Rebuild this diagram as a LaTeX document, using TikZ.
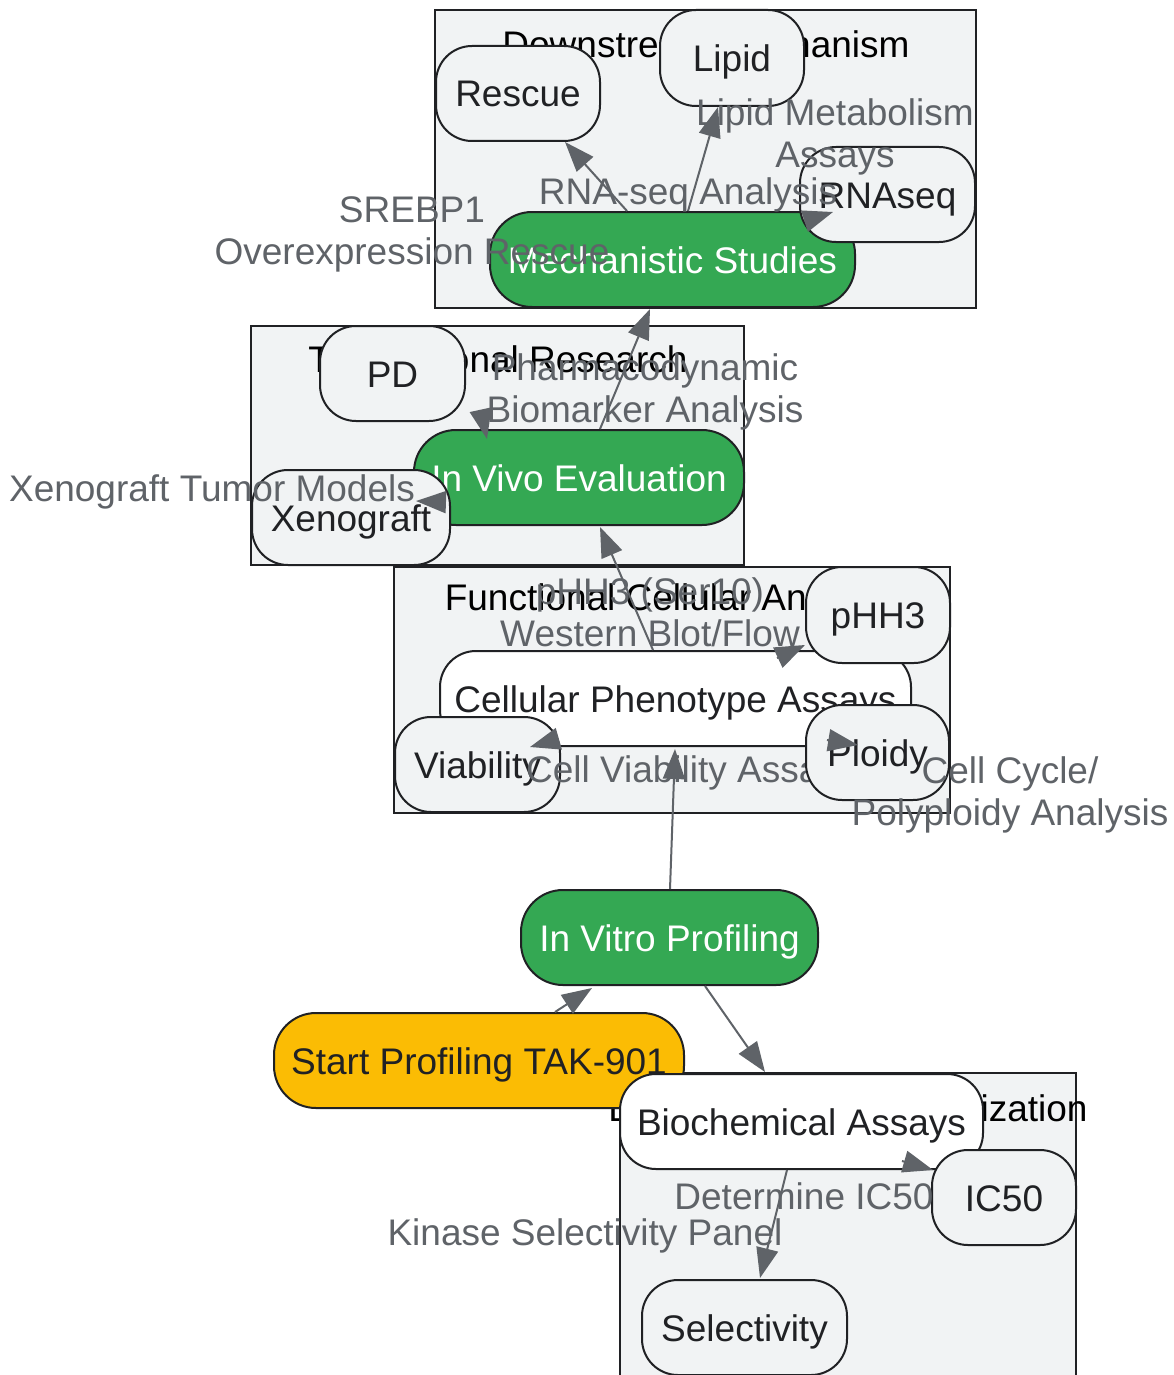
\documentclass[tikz,border=0pt]{standalone}
\usepackage{fontspec}
\setmainfont{Liberation Sans}
\usetikzlibrary{arrows.meta,calc}
\definecolor{gfill}{HTML}{F1F3F4}
\definecolor{dark}{HTML}{202124}
\definecolor{edgec}{HTML}{5F6368}
\definecolor{ggreen}{HTML}{34A853}
\definecolor{gyellow}{HTML}{FBBC04}
\newcommand\bigfs{\fontsize{37}{42}\selectfont}
\begin{document}
\begin{tikzpicture}[x=1pt,y=-1pt,
  cluster/.style={draw=dark, fill=gfill, line width=2pt},
  ctitle/.style={text=black, font=\bigfs, inner sep=0pt},
  box/.style={draw=dark, line width=2pt, rounded corners=36pt, fill=gfill, text=dark, font=\bigfs, inner sep=0pt, minimum height=95pt, text height=27pt, text depth=0pt},
  greenbox/.style={box, fill=ggreen, text=white, rounded corners=42pt},
  whitebox/.style={box, fill=white},
  yellowbox/.style={box, fill=gyellow, rounded corners=42pt},
  lab/.style={text=edgec, font=\bigfs, align=center, inner sep=0pt},
  arr/.style={draw=edgec, line width=2pt, -{Triangle[length=30pt,width=22pt]}}]
\useasboundingbox (0,0) rectangle (1174,1375);

% clusters
\draw[cluster] (435,10) rectangle (976,308);
\node[ctitle] (t1) at (706,44) {Downstream Mechanism};
\draw[cluster] (251,326) rectangle (744,565);
\node[ctitle] (t2) at (498,359) {Translational Research};
\draw[cluster] (394,567) rectangle (950,813);
\node[ctitle] (t3) at (672,601) {Functional Cellular Analysis};
\draw[cluster] (620,1073) rectangle (1076,1390);
\node[ctitle] (t4) at (848,1108) {Biochemical Characterization};

% nodes
\node[greenbox, minimum width=365pt] (mech) at (672.5,259.5) {Mechanistic Studies};
\node[box, minimum width=164pt] (rescue) at (518,93.5) {Rescue};
\node[box, minimum width=144pt, minimum height=96pt] (lipid) at (732,58) {Lipid};
\node[box, minimum width=175pt] (rnaseq) at (887.5,194.5) {RNAseq};
\node[greenbox, minimum width=330pt] (invivo) at (579,477.5) {In Vivo Evaluation};
\node[box, minimum width=145pt] (pd) at (392.5,373.5) {PD};
\node[box, minimum width=198pt] (xeno) at (351,517.5) {Xenograft};
\node[whitebox, minimum width=471pt] (cell) at (675.5,698.5) {Cellular Phenotype Assays};
\node[box, minimum width=144pt, minimum height=96pt] (phh3) at (878,615) {pHH3};
\node[box, minimum width=165pt] (viab) at (477.5,764.5) {Viability};
\node[lab] (l7) at (682,773) {Cell Viability Assay};
\node[box, minimum width=143pt] (ploidy) at (877.5,752.5) {Ploidy};
\node[greenbox, minimum width=297pt] (invitro) at (669.5,937.5) {In Vitro Profiling};
\node[yellowbox, minimum width=410pt] (start) at (479,1060.5) {Start Profiling TAK-901};
\node[whitebox, minimum width=363pt] (bioa) at (801.5,1121.5) {Biochemical Assays};
\node[box, minimum width=144pt] (ic50) at (1004,1197.5) {IC50};
\node[box, minimum width=205pt] (sel) at (744.5,1327.5) {Selectivity};

% arrow tips
\coordinate (tInvitro) at (592,988);
\coordinate (tBioa) at (765,1072);
\coordinate (tCell) at (675,749);
\coordinate (tInvivo) at (600,527);
\coordinate (tPhh3) at (805,645);
\coordinate (tViab) at (530,747);
\coordinate (tPloidy) at (858,745);
\coordinate (tMech) at (650,309);
\coordinate (tPd) at (487,439);
\coordinate (tXeno) at (416,501);
\coordinate (tRescue) at (565,142);
\coordinate (tLipid) at (718,107);
\coordinate (tRnaseq) at (833,212);
\coordinate (tIc50) at (933,1170);
\coordinate (tSel) at (760,1278);

% edges
\draw[arr] ([xshift=76pt]start.north) -- (tInvitro);
\draw[arr] ([xshift=35.5pt]invitro.south) -- (tBioa);
\draw[arr] ([xshift=0.5pt]invitro.north) -- (tCell);
\draw[arr] ([xshift=-22.5pt]cell.north) -- (tInvivo);
\draw[arr] ([shift={(101.5,8)}]cell.north) -- (tPhh3);
\draw[arr] ([shift={(-117.5,-8)}]cell.south) -- (tViab);
\draw[arr] ([shift={(151.5,-7)}]cell.south) -- (tPloidy);
\draw[arr] ([xshift=21pt]invivo.north) -- (tMech);
\draw[arr] ([shift={(-97,-13)}]invivo.north) -- (tPd);
\draw[arr] ([shift={(30,24.5)}]invivo.west) -- (tXeno);
\draw[arr] ([xshift=-45.5pt]mech.north) -- (tRescue);
\draw[arr] ([xshift=15.5pt]mech.north) -- (tLipid);
\draw[arr] ([shift={(132.5,10)}]mech.north) -- (tRnaseq);
\draw[arr] ([shift={(100.5,-9)}]bioa.south) -- (tIc50);
\draw[arr] ([xshift=-14.5pt]bioa.south) -- (tSel);

% edge labels
\node[lab] (l1) at (412,234) {SREBP1\\Overexpression Rescue};
\node[lab] (l2) at (835,137) {Lipid Metabolism\\Assays};
\node[lab] (l3) at (688,195) {RNA-seq Analysis};
\node[lab] (l4) at (645,392) {Pharmacodynamic\\Biomarker Analysis};
\node[lab] (l5) at (212,492) {Xenograft Tumor Models};
\node[lab] (l6) at (650,612) {pHH3 (Ser10)\\Western Blot/Flow};
\node[lab] (l8) at (1010,795) {Cell Cycle/\\Polyploidy Analysis};
\node[lab] (l9) at (804,1196) {Determine IC50};
\node[lab] (l10) at (585,1236) {Kinase Selectivity Panel};
\end{tikzpicture}
\end{document}
